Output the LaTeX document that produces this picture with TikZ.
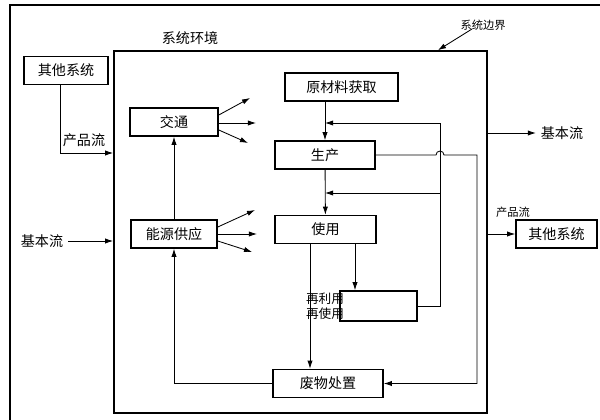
\documentclass[tikz,border=0pt]{standalone}
\usepackage{fontspec}
\setmainfont{Noto Sans CJK SC}
\usetikzlibrary{arrows.meta}

\begin{document}
\begin{tikzpicture}[
    x=0.025cm, y=-0.025cm,
    every node/.style={align=center,font=\fontsize{10}{12}\selectfont},
    box/.style={draw, line width=1.1pt, minimum height=0.7cm, inner sep=1pt},
    flow/.style={semithick},
    >={Latex[length=2mm,width=1.3mm]}
]
    \useasboundingbox (0,0) rectangle (600,420);

    % frame and system boundary
    \draw[thick] (10,420) -- (10,5) -- (600,5);
    \node[draw, line width=1.1pt, minimum width=9.325cm, minimum height=9.05cm] (sys) at (300.5,232) {};
    \node (envLbl) at (190,38) {系统环境};
    \node[font=\fontsize{8}{10}\selectfont] (bndLbl) at (483,25) {系统边界};
    \draw[flow, ->] (472,29) -- (sys.north -| 438,0);

    % boxes
    \node[box, minimum width=2.1cm] (otherL) at (66,70.5) {其他系统};
    \node[box, minimum width=2.2cm] (traffic) at (174,122) {交通};
    \node[box, minimum width=2.15cm] (energy) at (174,234) {能源供应};
    \node[box, minimum width=2.825cm] (raw) at (341.5,87) {原材料获取};
    \node[box, minimum width=2.5cm] (prod) at (325,155) {生产};
    \node[box, minimum width=2.525cm] (use) at (325.5,229.5) {使用};
    \node[box, minimum width=2.75cm] (waste) at (328,383.5) {废物处置};
    \node[box, minimum width=1.925cm, minimum height=0.75cm] (recyc) at (378.5,306) {};
    \node[font=\fontsize{9}{11}\selectfont] (recLbl) at (325,306) {再利用\\再使用};
    \node[box, minimum width=2.025cm] (otherR) at (556.5,234) {其他系统};

    % outer flows
    \node (flowL) at (84,140) {产品流};
    \draw[flow, ->] ([xshift=-0.15cm]otherL.south) |- (sys.west |- 0,153);
    \node (basicL) at (42,241) {基本流};
    \draw[flow, ->] (basicL) -- (basicL -| sys.west);
    \node (basicR) at (562,133) {基本流};
    \draw[flow, ->] (sys.east |- basicR) -- (basicR.west);
    \node[font=\fontsize{8}{10}\selectfont] (flowR) at (513,212) {产品流};
    \draw[flow, ->] (sys.east |- otherR) -- (otherR.west);

    % emissions
    \foreach \ya/\xb/\yb in {115/250/98, 123/256/123, 130/248/143}{
        \draw[flow, ->] (traffic.east |- 0,\ya) -- (\xb,\yb);
    }
    \foreach \ya/\xb/\yb in {227/255/210, 234/257/234, 241/252/252}{
        \draw[flow, ->] (energy.east |- 0,\ya) -- (\xb,\yb);
    }

    % life cycle
    \coordinate (retTop) at (440,123);
    \coordinate (retMid) at (440,193);
    \draw[flow, ->] (energy) -- (traffic);
    \draw[flow, ->] (waste.west) -| (energy.south);
    \draw[flow, ->] (raw.south -| prod.north) -- (prod.north);
    \draw[flow, ->] (prod) -- (use);
    \draw[flow, ->] (use.south -| 310,0) -- (waste.north -| 310,0);
    \draw[flow, ->] (use.south -| 355,0) -- (recyc.north -| 355,0);
    \draw[flow, ->] (recyc.east) -| (retTop) -- (retTop -| prod.north);
    \draw[flow, ->] (retMid) -- (retMid -| prod.north);
    \draw[flow, ->] (prod.east) -- (436,155) arc (180:360:4) -- (477,155) |- (waste.east);
\end{tikzpicture}
\end{document}
